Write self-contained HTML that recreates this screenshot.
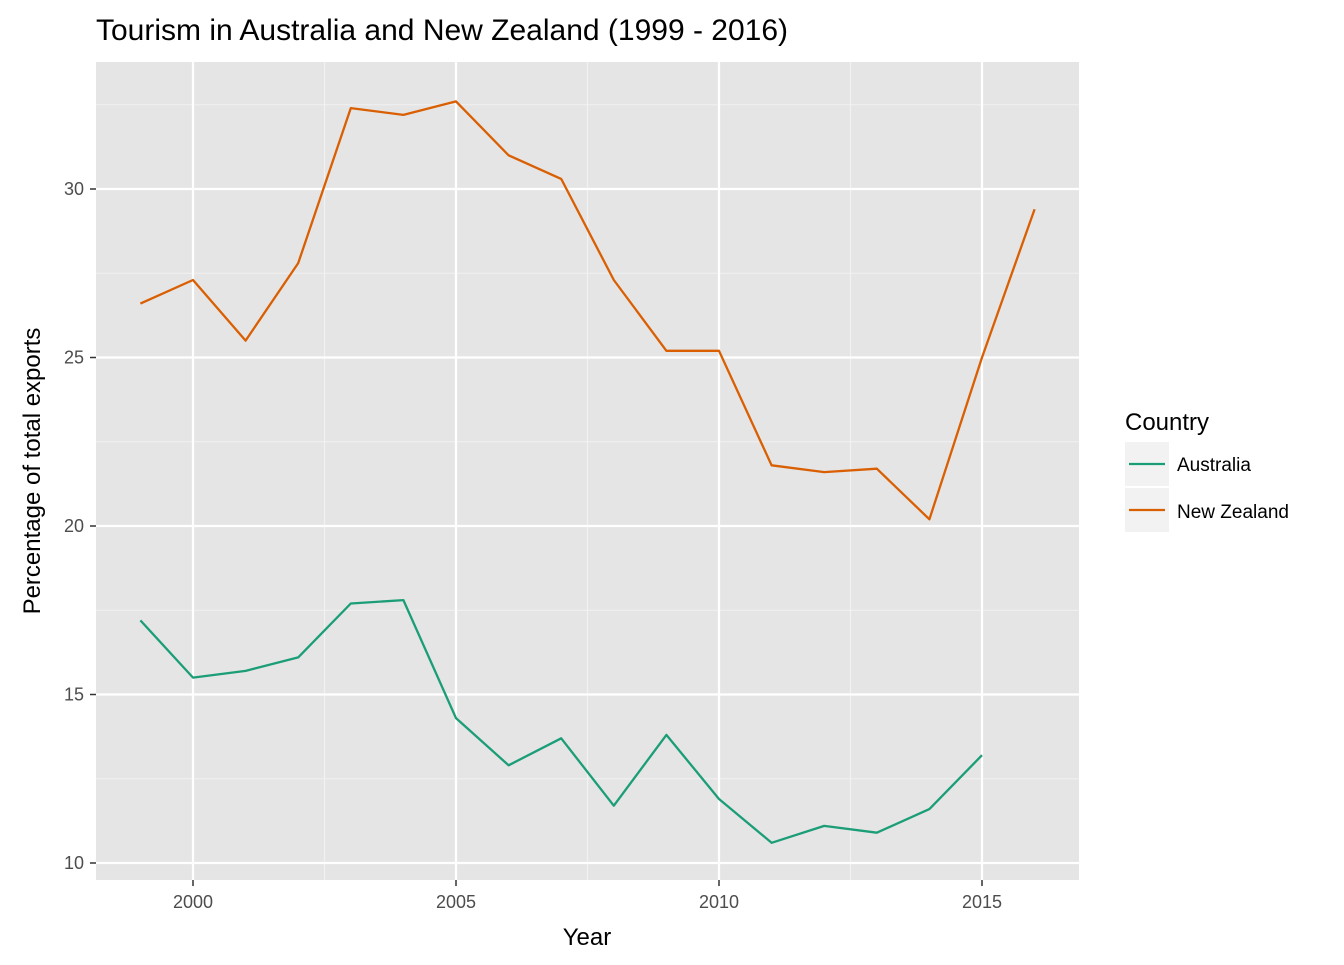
<!DOCTYPE html>
<html><head><meta charset="utf-8"><style>
body{margin:0;background:#fff;}
svg text{font-family:"Liberation Sans",sans-serif;}
</style></head><body>
<svg id="chart" width="1344" height="960" xmlns="http://www.w3.org/2000/svg">
<rect x="96" y="62" width="983" height="818" fill="#e5e5e5"/>
<g id="grid"></g>
<g id="axes"></g>
<g id="series"></g>
<text x="96" y="40" font-size="30" fill="#000">Tourism in Australia and New Zealand (1999 - 2016)</text>
<text x="587" y="945" font-size="24" text-anchor="middle">Year</text>
<text transform="translate(40,471) rotate(-90)" font-size="24" text-anchor="middle">Percentage of total exports</text>
<g>
<text x="1125" y="430" font-size="24">Country</text>
<rect x="1125" y="442" width="44" height="44" fill="#f2f2f2"/>
<line x1="1129" y1="464" x2="1165" y2="464" stroke="#1b9e77" stroke-width="2.2"/>
<text x="1177" y="471" font-size="19">Australia</text>
<rect x="1125" y="488" width="44" height="44" fill="#f2f2f2"/>
<line x1="1129" y1="510" x2="1165" y2="510" stroke="#d95f02" stroke-width="2.2"/>
<text x="1177" y="518" font-size="19">New Zealand</text>
</g>
</svg>
<script>
const years=[1999,2000,2001,2002,2003,2004,2005,2006,2007,2008,2009,2010,2011,2012,2013,2014,2015,2016];
const nz=[26.6,27.3,25.5,27.8,32.4,32.2,32.6,31.0,30.3,27.3,25.2,25.2,21.8,21.6,21.7,20.2,25.0,29.4];
const au=[17.2,15.5,15.7,16.1,17.7,17.8,14.3,12.9,13.7,11.7,13.8,11.9,10.6,11.1,10.9,11.6,13.2,null];
const xTicks=[2000,2005,2010,2015];
const yTicks=[10,15,20,25,30];
const NS="http://www.w3.org/2000/svg";
const x=v=>193+(v-2000)*52.6;
const y=v=>863-(v-10)*33.7;
function mk(tag,attrs,parent){const e=document.createElementNS(NS,tag);for(const k in attrs)e.setAttribute(k,attrs[k]);parent.appendChild(e);return e;}
const grid=document.getElementById('grid'),axes=document.getElementById('axes'),series=document.getElementById('series');
for(const t of [12.5,17.5,22.5,27.5,32.5]){
 const m=mk('line',{x1:96,x2:1079,y1:y(t),y2:y(t),stroke:'#f2f2f2','stroke-width':1.1},grid);
 
 
}
for(const t of [2002.5,2007.5,2012.5]){
 const m=mk('line',{x1:x(t),x2:x(t),y1:62,y2:880,stroke:'#f2f2f2','stroke-width':1.1},grid);
 
 
}
for(const t of yTicks){
 const l=mk('line',{x1:96,x2:1079,y1:y(t),y2:y(t),stroke:'#fff','stroke-width':2.2},grid);
 
 
 const tx=mk('text',{x:84,y:y(t)+6,'font-size':18,'text-anchor':'end',fill:'#4d4d4d'},axes);
 tx.textContent=t;
 
 
 mk('line',{x1:90,x2:96,y1:y(t),y2:y(t),stroke:'#333','stroke-width':1.5},axes);
}
for(const t of xTicks){
 const l=mk('line',{x1:x(t),x2:x(t),y1:62,y2:880,stroke:'#fff','stroke-width':2.2},grid);
 
 
 mk('line',{x1:x(t),x2:x(t),y1:880,y2:886,stroke:'#333','stroke-width':1.5},axes);
 const tx=mk('text',{x:x(t),y:908,'font-size':18,'text-anchor':'middle',fill:'#4d4d4d'},axes);
 tx.textContent=t;
 
 
}
function line(vals,color,name){
 const pts=[];vals.forEach((v,i)=>{if(v!=null)pts.push(x(years[i]).toFixed(1)+','+y(v).toFixed(1));});
 const p=mk('polyline',{points:pts.join(' '),fill:'none',stroke:color,'stroke-width':2.3,'stroke-linejoin':'round'},series);
 
 
}
line(nz,'#d95f02','new-zealand-line');
line(au,'#1b9e77','australia-line');
</script>
</body></html>
